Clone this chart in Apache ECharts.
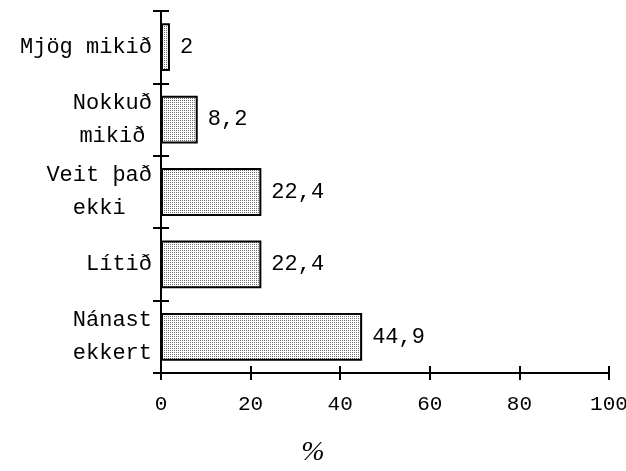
<!DOCTYPE html>
<html>
<head>
<meta charset="utf-8">
<script src="https://cdn.jsdelivr.net/npm/echarts@6/dist/echarts.min.js"></script>
<style>
  html, body { margin: 0; padding: 0; background: #fff; }
  #chart { width: 626px; height: 471px; }
</style>
</head>
<body>
<div id="chart"></div>
<script>
// data, top to bottom
const categories = ["Mjög mikið", "Nokkuð\nmikið", "Veit það\nekki", "Lítið", "Nánast\nekkert"];
const values = [2, 8.2, 22.4, 22.4, 44.9];
const xTicks = [0, 20, 40, 60, 80, 100];
const xTitle = "%";

const mono = "Liberation Mono";
const charW = 13.2; // advance of Liberation Mono at 22px

// stippled fill like the original
const pat = document.createElement("canvas");
pat.width = 2;
pat.height = 2;
const pctx = pat.getContext("2d");
pctx.fillStyle = "#ffffff";
pctx.fillRect(0, 0, 2, 2);
pctx.fillStyle = "#6e6e6e";
pctx.fillRect(0, 0, 1, 1);

// one rich style per block width, lines centered inside it
const richStyles = {};
for (let n = 1; n <= 12; n++) {
  richStyles["w" + n] = {
    width: n * charW,
    align: "center",
    fontFamily: mono,
    fontSize: 22,
    lineHeight: 33,
    color: "#000",
  };
}

const chart = echarts.init(document.getElementById("chart"));

const option = {
  animation: false,
  // the % sits centred on the whole picture, not on the axis
  title: {
    text: xTitle,
    left: "center",
    top: 439,
    padding: 0,
    textStyle: {
      fontFamily: "Liberation Serif",
      fontStyle: "italic",
      fontWeight: "normal",
      fontSize: 28,
      color: "#000",
    },
  },
  grid: { left: 161, right: 17, top: 11, bottom: 98, outerBoundsMode: "none", containLabel: false },
  xAxis: [
    {
      type: "value",
      min: xTicks[0],
      max: xTicks[xTicks.length - 1],
      interval: 20,
      axisLine: { show: true, lineStyle: { color: "#000", width: 2 } },
      axisTick: { show: true, length: 7, lineStyle: { color: "#000", width: 2 } },
      axisLabel: { fontFamily: mono, fontSize: 21, color: "#000", margin: 21 },
      splitLine: { show: false },
    },
    {
      type: "value",
      position: "bottom",
      min: xTicks[0],
      max: xTicks[xTicks.length - 1],
      interval: 20,
      axisLine: { show: false },
      axisTick: { show: true, inside: true, length: 7, lineStyle: { color: "#000", width: 2 } },
      axisLabel: { show: false },
      splitLine: { show: false },
    },
  ],
  yAxis: [
    {
      type: "category",
      inverse: true,
      data: categories,
      axisLine: { show: true, lineStyle: { color: "#000", width: 2 } },
      axisTick: { show: true, length: 8, lineStyle: { color: "#000", width: 2 } },
      axisLabel: {
        margin: 9,
        color: "#000",
        formatter: function (value) {
          const lines = value.split("\n");
          const n = Math.max.apply(null, lines.map(function (s) { return s.length; }));
          return lines
            .map(function (s) { return "{w" + n + "|" + s + "}"; })
            .join("\n");
        },
        rich: richStyles,
      },
    },
    {
      type: "category",
      position: "left",
      inverse: true,
      data: categories,
      axisLine: { show: false },
      axisTick: { show: true, inside: true, length: 8, lineStyle: { color: "#000", width: 2 } },
      axisLabel: { show: false },
    },
  ],
  series: [
    {
      type: "bar",
      xAxisIndex: 0,
      yAxisIndex: 0,
      data: values,
      barWidth: "66%",
      itemStyle: {
        color: { image: pat, repeat: "repeat" },
        borderColor: "#000",
        borderWidth: 2,
      },
      label: {
        show: true,
        position: "right",
        distance: 10,
        fontFamily: mono,
        fontSize: 22,
        color: "#000",
        formatter: function (p) {
          return String(p.value).replace(".", ",");
        },
      },
    },
  ],
};

chart.setOption(option);
</script>
</body>
</html>
